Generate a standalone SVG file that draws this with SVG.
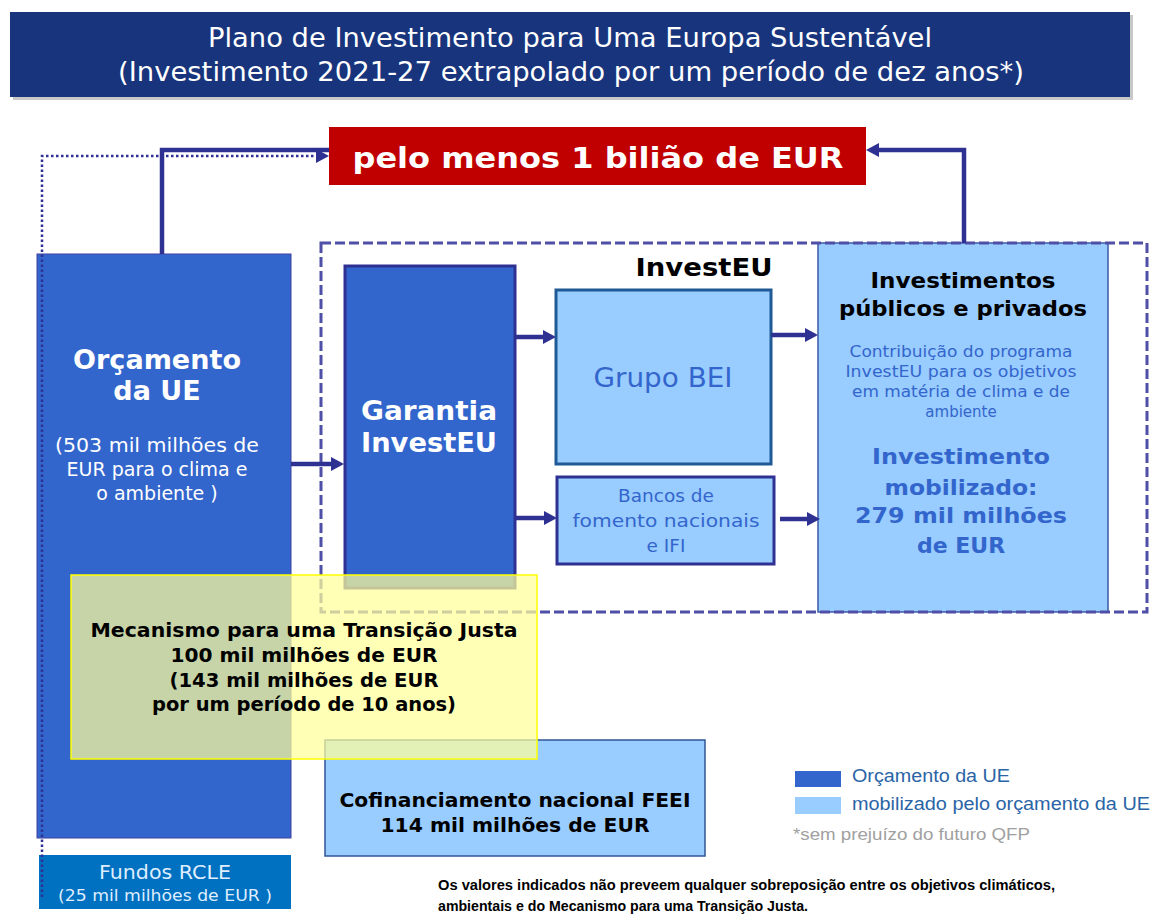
<svg xmlns="http://www.w3.org/2000/svg" width="1150" height="914" viewBox="0 0 1150 914">
<defs>
<marker id="ah" markerUnits="userSpaceOnUse" markerWidth="13" markerHeight="15" refX="0" refY="7" orient="auto" viewBox="0 0 13 14">
<path d="M0,0 L13,7 L0,14 z" fill="#2e3192"/>
</marker>
<style>
text{font-family:"DejaVu Sans","Noto Sans",sans-serif;text-anchor:middle}
.b{font-weight:bold}
.w{fill:#ffffff}
.k{fill:#000000}
.bl{fill:#3366cc}
.dark{fill:#3366cc;stroke:#4040a0;stroke-width:1}
.light{fill:#99ccff}
.conn{fill:none;stroke:#2e3192;stroke-width:4.5}
.cal{font-family:"Liberation Sans",Arial,sans-serif;text-anchor:start}
</style>
</defs>

<g id="title">
<rect x="13" y="15" width="1120" height="85" fill="#c8c8c8"/>
<rect x="10" y="12" width="1120" height="85" fill="#17347d"/>
<text x="570" y="47" class="w" font-size="26" textLength="724" lengthAdjust="spacingAndGlyphs">Plano de Investimento para Uma Europa Sustentável</text>
<text x="571" y="81" class="w" font-size="26" textLength="906" lengthAdjust="spacingAndGlyphs">(Investimento 2021-27 extrapolado por um período de dez anos*)</text>
</g>

<g id="total">
<rect x="329" y="127" width="537" height="58" fill="#c00000"/>
<text x="598" y="168" class="w b" font-size="29" textLength="491" lengthAdjust="spacingAndGlyphs">pelo menos 1 bilião de EUR</text>
</g>

<g id="orcamento">
<rect x="37" y="254" width="254" height="584" class="dark"/>
<text x="157" y="369" class="w b" font-size="27" textLength="168" lengthAdjust="spacingAndGlyphs">Orçamento</text>
<text x="157" y="400" class="w b" font-size="27">da UE</text>
<text x="157" y="452" class="w" font-size="19" textLength="204" lengthAdjust="spacingAndGlyphs">(503 mil milhões de</text>
<text x="157" y="476" class="w" font-size="19">EUR para o clima e</text>
<text x="157" y="500" class="w" font-size="19">o ambiente )</text>
</g>

<g id="fundos">
<rect x="39" y="855" width="252" height="54" fill="#0070c0"/>
<text x="165" y="879" fill="#dfeeff" font-size="19" textLength="132" lengthAdjust="spacingAndGlyphs">Fundos RCLE</text>
<text x="165" y="901" fill="#dfeeff" font-size="15.5" textLength="214" lengthAdjust="spacingAndGlyphs">(25 mil milhões de EUR )</text>
</g>

<g id="garantia">
<rect x="345" y="266" width="170" height="322" fill="#3366cc" stroke="#2e3192" stroke-width="3"/>
<text x="429" y="420" class="w b" font-size="26" textLength="136" lengthAdjust="spacingAndGlyphs">Garantia</text>
<text x="429" y="452" class="w b" font-size="26" textLength="136" lengthAdjust="spacingAndGlyphs">InvestEU</text>
</g>

<g id="grupobei">
<rect x="556" y="290" width="215" height="174" fill="#99ccff" stroke="#1f5a96" stroke-width="3"/>
<text x="663" y="387" class="bl" font-size="26" textLength="139" lengthAdjust="spacingAndGlyphs">Grupo BEI</text>
</g>

<g id="bancos">
<rect x="557" y="477" width="217" height="87" fill="#99ccff" stroke="#2e3192" stroke-width="3"/>
<text x="666" y="502" class="bl" font-size="18.5">Bancos de</text>
<text x="666" y="527" class="bl" font-size="18.5" textLength="187" lengthAdjust="spacingAndGlyphs">fomento nacionais</text>
<text x="666" y="552" class="bl" font-size="18.5">e IFI</text>
</g>

<g id="investimentos">
<rect x="818" y="243" width="290" height="369" fill="#99ccff" stroke="#3a5ba8" stroke-width="1.5"/>
<text x="963" y="288" class="k b" font-size="21" textLength="185" lengthAdjust="spacingAndGlyphs">Investimentos</text>
<text x="963" y="316" class="k b" font-size="21" textLength="248" lengthAdjust="spacingAndGlyphs">públicos e privados</text>
<text x="961" y="357" class="bl" font-size="15" textLength="223" lengthAdjust="spacingAndGlyphs">Contribuição do programa</text>
<text x="961" y="377" class="bl" font-size="15" textLength="231" lengthAdjust="spacingAndGlyphs">InvestEU para os objetivos</text>
<text x="961" y="397" class="bl" font-size="15" textLength="218" lengthAdjust="spacingAndGlyphs">em matéria de clima e de</text>
<text x="961" y="417" class="bl" font-size="15">ambiente</text>
<text x="961" y="464" class="bl b" font-size="22" textLength="178" lengthAdjust="spacingAndGlyphs">Investimento</text>
<text x="961" y="495" class="bl b" font-size="22" textLength="153" lengthAdjust="spacingAndGlyphs">mobilizado:</text>
<text x="961" y="523" class="bl b" font-size="22" textLength="212" lengthAdjust="spacingAndGlyphs">279 mil milhões</text>
<text x="961" y="553" class="bl b" font-size="22">de EUR</text>
</g>

<g id="investeu">
<rect x="321" y="243" width="826" height="369" fill="none" stroke="#4f4fa8" stroke-width="3" stroke-dasharray="10 4"/>
<text x="704" y="276" class="k b" font-size="25" textLength="137" lengthAdjust="spacingAndGlyphs">InvestEU</text>
</g>

<g id="cofinanciamento">
<rect x="325" y="740" width="380" height="116" fill="#99ccff" stroke="#2f5597" stroke-width="1.5"/>
<text x="515" y="807" class="k b" font-size="20" textLength="351" lengthAdjust="spacingAndGlyphs">Cofinanciamento nacional FEEI</text>
<text x="515" y="832" class="k b" font-size="20" textLength="269" lengthAdjust="spacingAndGlyphs">114 mil milhões de EUR</text>
</g>

<g id="connectors">
<path class="conn" d="M162,254 V150 H329"/>
<path d="M42,897 V156 H316" fill="none" stroke="#2e3192" stroke-width="2.5" stroke-dasharray="2.5 2.5" marker-end="url(#ah)"/>
<path class="conn" d="M964,243 V150 H879" marker-end="url(#ah)"/>
<path class="conn" d="M291,464 H331" marker-end="url(#ah)"/>
<path class="conn" d="M515,337 H543" marker-end="url(#ah)"/>
<path class="conn" d="M515,518 H544" marker-end="url(#ah)"/>
<path class="conn" d="M771,335 H805" marker-end="url(#ah)"/>
<path class="conn" d="M780,519 H807" marker-end="url(#ah)"/>
</g>

<g id="mecanismo">
<rect x="71" y="575" width="466" height="184" fill="#ffff9a" fill-opacity="0.72" stroke="#ffff00" stroke-width="1.5"/>
<text x="304" y="637" class="k b" font-size="19" textLength="427" lengthAdjust="spacingAndGlyphs">Mecanismo para uma Transição Justa</text>
<text x="304" y="662" class="k b" font-size="19" textLength="267" lengthAdjust="spacingAndGlyphs">100 mil milhões de EUR</text>
<text x="304" y="687" class="k b" font-size="19" textLength="269" lengthAdjust="spacingAndGlyphs">(143 mil milhões de EUR</text>
<text x="304" y="711" class="k b" font-size="19" textLength="304" lengthAdjust="spacingAndGlyphs">por um período de 10 anos)</text>
</g>

<g id="legend">
<rect x="795" y="771" width="46" height="16" fill="#3366cc"/>
<text x="852" y="782" class="cal" fill="#2a64a6" font-size="17.5" textLength="158" lengthAdjust="spacingAndGlyphs">Orçamento da UE</text>
<rect x="795" y="797" width="46" height="17" fill="#99ccff"/>
<text x="852" y="810" class="cal" fill="#2a64a6" font-size="17.5" textLength="298" lengthAdjust="spacingAndGlyphs">mobilizado pelo orçamento da UE</text>
<text x="793" y="840" class="cal" fill="#a0a0a0" font-size="16" textLength="237" lengthAdjust="spacingAndGlyphs">*sem prejuízo do futuro QFP</text>
</g>

<g id="footnote">
<text x="438" y="890" class="cal b" fill="#000" font-size="14" textLength="617" lengthAdjust="spacingAndGlyphs">Os valores indicados não preveem qualquer sobreposição entre os objetivos climáticos,</text>
<text x="438" y="911" class="cal b" fill="#000" font-size="14" textLength="370" lengthAdjust="spacingAndGlyphs">ambientais e do Mecanismo para uma Transição Justa.</text>
</g>
</svg>
